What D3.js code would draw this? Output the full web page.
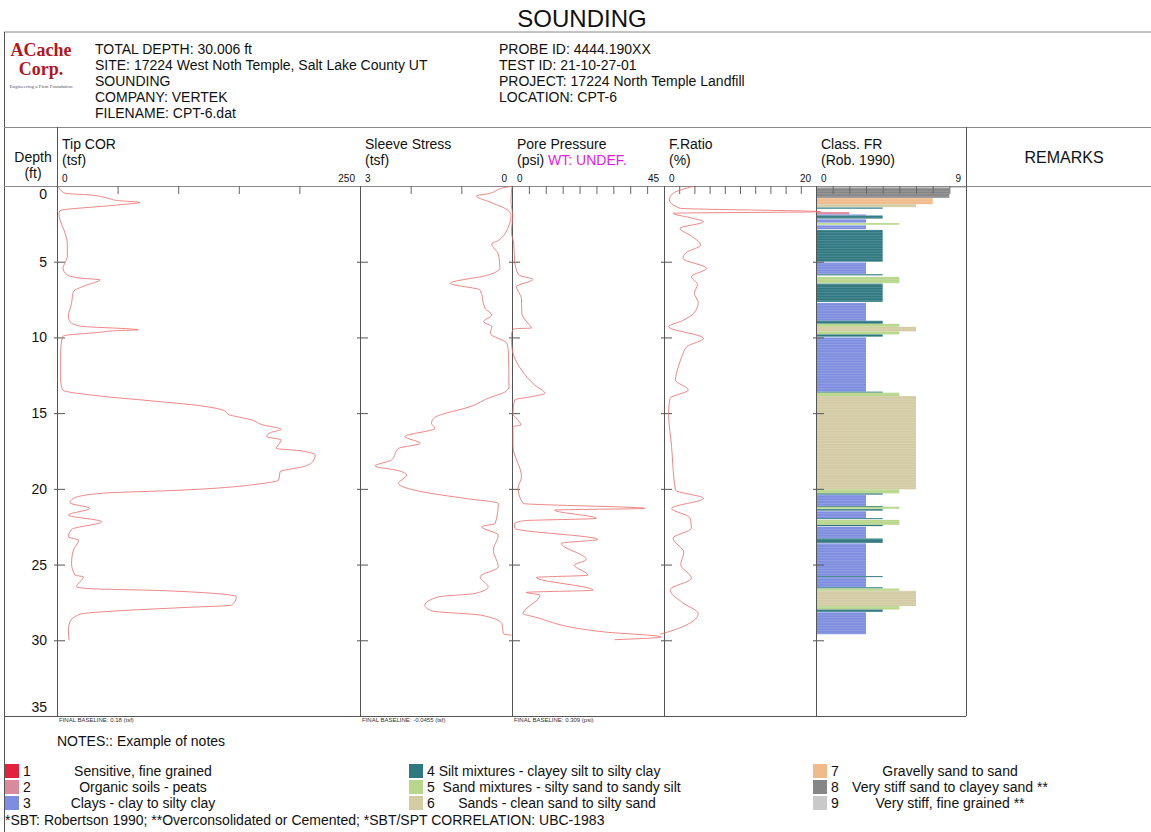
<!DOCTYPE html>
<html>
<head>
<meta charset="utf-8">
<script src="https://cdn.jsdelivr.net/npm/d3@7"></script>
<style>
  body { margin: 0; background: #fff; }
  text { font-family: "Liberation Sans", Arial, sans-serif; fill: #111; }
</style>
</head>
<body>
<div id="chart"></div>
<script>
// depth (ft), value
const tipCor = [[0.03,1],[0.48,6.6],[0.59,27],[0.81,42],[0.97,51],[1.08,68.5],[1.26,49],[1.63,2.5],[1.8,1.6],[2.25,2.5],[2.9,5.7],[3.79,8.5],[4.67,8.5],[5.0,7],[5.44,5],[5.88,8.5],[6.1,21.7],[6.2,35.5],[6.54,24.5],[6.98,13.5],[7.75,12],[8.63,9.4],[8.96,10.7],[9.25,19],[9.5,67],[9.55,49],[9.66,35.5],[9.9,5.2],[10.17,3.9],[11.05,3],[12.81,3],[13.47,4.7],[13.87,35.5],[14.18,76.7],[14.51,118],[14.8,137],[15.13,143],[15.41,159],[15.78,170],[16.07,185],[16.29,176],[16.55,173],[16.77,185],[17.33,181],[17.48,200.5],[17.77,213],[18.21,211],[18.54,203],[18.87,184],[19.42,183],[19.64,170],[20.08,104],[20.3,35.5],[20.63,13.5],[20.92,10.7],[21.29,27],[21.73,9.4],[22.17,36.9],[22.68,12],[23.17,9.4],[23.39,17.8],[24.05,13.5],[24.93,12],[25.7,14.9],[25.81,21.7],[26.47,16.2],[26.58,24.5],[26.73,90.5],[27.13,148],[27.68,144],[27.84,104],[28.06,49],[28.28,19],[28.79,10.7],[29.34,9.4],[30.0,10]];

const sleeveStress = [[0.02,0.01],[0.07,0.1],[0.51,0.47],[0.66,0.7],[1.1,0.4],[1.63,0.07],[1.96,0.02],[2.6,0.06],[3.6,0.27],[3.83,0.4],[4.5,0.27],[5.44,0.24],[5.88,0.47],[6.43,1.22],[6.87,0.63],[8.08,0.53],[8.52,0.4],[8.96,0.56],[9.29,0.4],[9.73,0.43],[10.39,0.1],[11.05,0.07],[13.25,0.06],[13.58,0.13],[14.02,0.47],[14.68,0.93],[14.9,1.19],[15.28,1.52],[15.67,1.59],[16.0,1.52],[16.55,2.11],[16.99,1.81],[17.33,2.24],[18.1,2.38],[18.49,2.7],[18.8,2.24],[19.09,2.08],[19.64,2.24],[20.19,1.78],[20.63,0.93],[20.96,0.27],[22.28,0.33],[22.5,0.6],[23.06,0.27],[24.05,0.37],[25.15,0.27],[25.81,0.63],[26.47,0.47],[26.91,0.73],[27.13,1.45],[27.68,1.72],[28.06,1.58],[28.35,0.6],[28.9,0.2],[29.56,0.17],[29.67,0.01]];

const porePressure = [[0.02,0],[1.0,-0.3],[2.0,0.2],[3.0,-0.2],[3.8,0.5],[5.0,0.8],[5.88,2.0],[6.17,6.2],[6.65,1.3],[7.42,2.8],[8.41,2.9],[9.07,4.7],[9.38,5.7],[9.42,1.5],[9.47,0.3],[9.95,-0.2],[10.72,0],[12.15,2.8],[13.14,6.7],[13.69,9.7],[13.91,5.7],[14.13,0.8],[15.0,0.3],[15.78,2.6],[15.89,0.3],[17.2,0.3],[19.2,2.8],[19.97,1.8],[20.96,3.3],[21.29,39.3],[21.4,12.6],[21.95,25],[22.1,3.8],[22.28,0.8],[22.6,0.8],[23.34,25.4],[23.6,14.6],[24.66,22],[25.04,18.5],[25.7,22.5],[25.85,7.2],[26.69,24],[26.84,4.2],[27.02,8.3],[28.24,3.3],[28.46,6.7],[29.45,27.4],[29.78,44.2],[29.96,30.4]];

const frictionRatio = [[0.02,3.9],[0.48,1.2],[0.92,0.7],[1.47,2.1],[1.7,20.6],[1.8,1.2],[2.1,3.5],[2.36,5.2],[2.8,2.1],[3.3,3.6],[3.9,4.8],[4.4,2.9],[4.78,2.5],[5.44,5.6],[5.99,3.6],[6.5,4.4],[7.09,4.0],[7.7,4.5],[8.41,3.9],[8.9,2.4],[9.29,0.6],[10.06,5.2],[10.61,3.0],[11.2,2.4],[11.93,1.9],[12.81,1.5],[13.47,3.2],[14.02,0.8],[15.0,0.6],[17.2,1.0],[20.08,1.5],[20.63,5.2],[21.29,1.0],[21.9,3.4],[22.6,3.6],[23.26,1.2],[24.2,2.6],[25.0,2.2],[25.9,3.6],[26.67,0.8],[27.5,2.4],[28.24,4.5],[29.34,1.2],[29.6,-0.5]];

// [top depth, bottom depth, soil class]
const soilClass = [[0.05,0.12,9],[0.12,0.78,8],[0.8,1.2,7],[1.2,1.4,6],[1.42,1.5,4],[1.72,1.88,2],[1.88,1.95,3],[1.95,2.15,4],[2.2,2.42,3],[2.45,2.56,5],[2.6,2.85,3],[2.9,5.0,4],[5.05,5.8,3],[5.82,5.9,4],[6.0,6.42,5],[6.45,7.65,4],[7.72,8.9,3],[8.9,9.1,4],[9.1,9.3,5],[9.3,9.6,6],[9.6,9.8,5],[9.8,9.95,4],[10.0,13.58,3],[13.58,13.65,4],[13.65,13.87,5],[13.87,20.03,6],[20.03,20.3,5],[20.3,20.38,4],[20.4,21.13,3],[21.13,21.18,4],[21.18,21.32,5],[21.34,21.44,4],[21.48,21.93,3],[21.93,22.0,4],[22.05,22.38,5],[22.38,22.46,4],[22.5,23.28,3],[23.28,23.57,4],[23.6,25.76,3],[25.76,25.83,4],[25.83,26.5,3],[26.5,26.58,4],[26.58,26.73,5],[26.73,27.74,6],[27.74,27.97,5],[27.97,28.12,4],[28.15,29.6,3]];

const classColors = ["#e3213f","#d98a9c","#7d8ee0","#2f7880","#b8d68b","#d3cba3","#f0ba8a","#868686","#c9c9c9"];
const classNames = ["Sensitive, fine grained","Organic soils - peats","Clays - clay to silty clay",
  "Silt mixtures - clayey silt to silty clay","Sand mixtures - silty sand to sandy silt","Sands - clean sand to silty sand",
  "Gravelly sand to sand","Very stiff sand to clayey sand **","Very stiff, fine grained **"];

const depthTicks = [0,5,10,15,20,25,30,35];
const headerLeft = ["TOTAL DEPTH: 30.006 ft","SITE: 17224 West Noth Temple, Salt Lake County UT","SOUNDING","COMPANY: VERTEK","FILENAME: CPT-6.dat"];
const headerRight = ["PROBE ID: 4444.190XX","TEST ID: 21-10-27-01","PROJECT: 17224 North Temple Landfill","LOCATION: CPT-6"];
const baselines = ["FINAL BASELINE: 0.18 (tsf)","FINAL BASELINE: -0.0455 (tsf)","FINAL BASELINE: 0.309 (psi)"];

const W = 1151, H = 832;
const svg = d3.select("#chart").append("svg").attr("width", W).attr("height", H);

const plotTop = 186, plotBottom = 716;
const y = d3.scaleLinear().domain([0, 35]).range([plotTop, plotBottom]);

const cols = [
  {title: "Tip COR", unit: "(tsf)", x: d3.scaleLinear().domain([0, 250]).range([57, 360]), ticks: [50,100,150,200], lo: "0", hi: "250", data: tipCor},
  {title: "Sleeve Stress", unit: "(tsf)", x: d3.scaleLinear().domain([3, 0]).range([360, 512]), ticks: [1,2], lo: "3", hi: "0", data: sleeveStress},
  {title: "Pore Pressure", unit: "(psi)", x: d3.scaleLinear().domain([0, 45]).range([512, 664]), ticks: d3.range(5, 45, 5), lo: "0", hi: "45", data: porePressure},
  {title: "F.Ratio", unit: "(%)", x: d3.scaleLinear().domain([0, 20]).range([664, 816]), ticks: d3.range(2, 20, 2), lo: "0", hi: "20", data: frictionRatio},
  {title: "Class. FR", unit: "(Rob. 1990)", x: d3.scaleLinear().domain([0, 9]).range([816, 966]), ticks: d3.range(1, 9), lo: "0", hi: "9", data: null}
];
const xClass = cols[4].x;

const lineCol = "#555";

// title + frame
svg.append("text").attr("x", 582).attr("y", 27).attr("text-anchor", "middle")
  .style("font-size", "24px").text("SOUNDING");
svg.append("line").attr("x1", 4).attr("x2", W).attr("y1", 32).attr("y2", 32).attr("stroke", "#888");
svg.append("line").attr("x1", 4.5).attr("x2", 4.5).attr("y1", 32).attr("y2", H).attr("stroke", lineCol);
svg.append("line").attr("x1", 4).attr("x2", W).attr("y1", 127.5).attr("y2", 127.5).attr("stroke", "#888");

// logo
svg.append("text").attr("x", 41).attr("y", 56).attr("text-anchor", "middle")
  .style("font-family", "Liberation Serif, serif").style("font-weight", "bold").style("font-size", "18px")
  .style("fill", "#b3161c").text("ACache");
svg.append("text").attr("x", 41).attr("y", 75).attr("text-anchor", "middle")
  .style("font-family", "Liberation Serif, serif").style("font-weight", "bold").style("font-size", "18px")
  .style("fill", "#b3161c").text("Corp.");
svg.append("text").attr("x", 41).attr("y", 88).attr("text-anchor", "middle")
  .style("font-family", "Liberation Serif, serif").style("font-size", "5px").style("fill", "#555")
  .text("Engineering a Firm Foundation");

// header info
svg.selectAll(".hl").data(headerLeft).join("text")
  .attr("x", 95).attr("y", (d, i) => 54 + i * 16).style("font-size", "14px").text(d => d);
svg.selectAll(".hr").data(headerRight).join("text")
  .attr("x", 499).attr("y", (d, i) => 54 + i * 16).style("font-size", "14px").text(d => d);

// column headers
svg.append("text").attr("x", 33).attr("y", 162).attr("text-anchor", "middle").style("font-size", "14px").text("Depth");
svg.append("text").attr("x", 33).attr("y", 178).attr("text-anchor", "middle").style("font-size", "14px").text("(ft)");
svg.append("text").attr("x", 1064).attr("y", 163).attr("text-anchor", "middle").style("font-size", "16px").text("REMARKS");

cols.forEach((c, i) => {
  const [x0, x1] = c.x.range();
  svg.append("text").attr("x", x0 + 5).attr("y", 149).style("font-size", "14px").text(c.title);
  const u = svg.append("text").attr("x", x0 + 5).attr("y", 165).style("font-size", "14px").text(c.unit);
  if (i === 2) u.append("tspan").style("fill", "#e619e6").text(" WT: UNDEF.");
  svg.append("text").attr("x", x0 + 5).attr("y", 182).style("font-size", "10px").text(c.lo);
  svg.append("text").attr("x", x1 - 5).attr("y", 182).attr("text-anchor", "end").style("font-size", "10px").text(c.hi);
});

// class bars
const clip = svg.append("clipPath").attr("id", "barclip");
clip.selectAll("rect").data(soilClass).join("rect")
  .attr("x", xClass(0)).attr("y", d => y(d[0])).attr("width", d => xClass(d[2]) - xClass(0))
  .attr("height", d => Math.max(1, y(d[1]) - y(d[0])));
svg.append("g").selectAll("rect").data(soilClass).join("rect")
  .attr("x", xClass(0)).attr("y", d => y(d[0])).attr("width", d => xClass(d[2]) - xClass(0))
  .attr("height", d => Math.max(1, y(d[1]) - y(d[0])))
  .attr("fill", d => classColors[d[2] - 1]);
svg.append("g").attr("clip-path", "url(#barclip)")
  .selectAll("line").data(d3.range(plotTop, plotBottom, 2.6)).join("line")
  .attr("x1", xClass(0)).attr("x2", xClass(9)).attr("y1", d => d).attr("y2", d => d)
  .attr("stroke", "#fff").attr("stroke-opacity", 0.22).attr("stroke-width", 0.8);

// grid frame of plot
svg.append("line").attr("x1", 4).attr("x2", 966).attr("y1", plotBottom + 0.5).attr("y2", plotBottom + 0.5).attr("stroke", lineCol);
svg.append("line").attr("x1", 4).attr("x2", W).attr("y1", plotTop + 0.5).attr("y2", plotTop + 0.5).attr("stroke", "#888");
[57, 966].forEach(xv => svg.append("line").attr("x1", xv + 0.5).attr("x2", xv + 0.5)
  .attr("y1", 127).attr("y2", plotBottom).attr("stroke", lineCol));
[360, 512, 664, 816].forEach(xv => svg.append("line").attr("x1", xv + 0.5).attr("x2", xv + 0.5)
  .attr("y1", plotTop).attr("y2", plotBottom).attr("stroke", lineCol));

// top ticks
cols.forEach(c => {
  const g = svg.append("g").attr("transform", `translate(0,${plotTop})`)
    .call(d3.axisBottom(c.x).tickValues(c.ticks).tickSize(8).tickFormat(""));
  g.select(".domain").remove();
  g.selectAll("line").attr("stroke", "#666");
});

// depth ticks on each column's left edge
cols.forEach(c => {
  const x0 = c.x.range()[0];
  const g = svg.append("g").attr("transform", `translate(${x0 - 3},0)`)
    .call(d3.axisRight(y).tickValues(depthTicks.slice(1, 7)).tickSize(11).tickFormat(""));
  g.select(".domain").remove();
  g.selectAll("line").attr("stroke", "#555");
});

// depth labels
svg.selectAll(".dl").data(depthTicks).join("text")
  .attr("x", 47).attr("text-anchor", "end")
  .attr("y", d => Math.min(Math.max(y(d), 194), 707) + 5)
  .style("font-size", "14px").text(d => d);

// traces
cols.forEach(c => {
  if (!c.data) return;
  const line = d3.line().x(d => c.x(d[1])).y(d => y(d[0])).curve(d3.curveMonotoneY);
  svg.append("path").datum(c.data)
    .attr("fill", "none").attr("stroke", "#e86a6a").attr("stroke-width", 0.8).attr("d", line);
});

// baselines + notes
baselines.forEach((t, i) => {
  svg.append("text").attr("x", cols[i].x.range()[0] + 2).attr("y", 722)
    .style("font-size", "6px").style("fill", "#333").text(t);
});
svg.append("text").attr("x", 57).attr("y", 746).style("font-size", "14px").text("NOTES:: Example of notes");

// legend
const lg = svg.append("g");
classNames.forEach((name, i) => {
  const col = Math.floor(i / 3), row = i % 3;
  const x0 = [5, 409, 813][col], yy = 764 + row * 16;
  lg.append("rect").attr("x", x0).attr("y", yy).attr("width", 14).attr("height", 14).attr("fill", classColors[i]);
  if (col === 1 && i < 5) {
    lg.append("text").attr("x", x0 + 18).attr("y", yy + 12).style("font-size", "14px")
      .attr("xml:space", "preserve").text((i + 1) + (i === 4 ? "  " : " ") + name);
  } else {
    lg.append("text").attr("x", x0 + 18).attr("y", yy + 12).style("font-size", "14px").text(i + 1);
    const cx = [143, 557, 950][col];
    lg.append("text").attr("x", cx).attr("y", yy + 12).attr("text-anchor", "middle").style("font-size", "14px").text(name);
  }
});
svg.append("text").attr("x", 5).attr("y", 825).style("font-size", "14px")
  .text("*SBT: Robertson 1990; **Overconsolidated or Cemented; *SBT/SPT CORRELATION: UBC-1983");
</script>
</body>
</html>
